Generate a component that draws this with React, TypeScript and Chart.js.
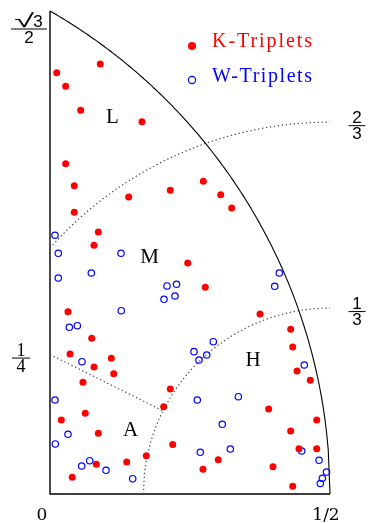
import { useEffect, useRef } from "react";
import { Chart, registerables } from "chart.js";

Chart.register(...registerables);

const X_MAX = 0.5;
const Y_MAX = Math.sqrt(3) / 2;

// K-Triplets (red filled dots)
const kTriplets: [number, number][] = [
  [0.012, 0.7554], [0.028, 0.731], [0.0898, 0.771], [0.0548, 0.688], [0.1643, 0.6676],
  [0.028, 0.5923], [0.0434, 0.5528], [0.1405, 0.5325], [0.2148, 0.5446], [0.0434, 0.5051],
  [0.0863, 0.4698], [0.0786, 0.4459], [0.2738, 0.5607], [0.3048, 0.5367], [0.3245, 0.5128],
  [0.2459, 0.4142], [0.0321, 0.3269], [0.0745, 0.2792], [0.0357, 0.251], [0.1095, 0.2433],
  [0.0786, 0.2277], [0.2773, 0.3706], [0.375, 0.3228], [0.4298, 0.2953], [0.4334, 0.2636],
  [0.4411, 0.2205], [0.4648, 0.2039], [0.1138, 0.2157], [0.0589, 0.2003], [0.2148, 0.1883],
  [0.203, 0.1565], [0.063, 0.1447], [0.0202, 0.1327], [0.0863, 0.1088], [0.2191, 0.0888],
  [0.172, 0.0687], [0.137, 0.0574], [0.0827, 0.0533], [0.0398, 0.0299], [0.3905, 0.1524],
  [0.4763, 0.1327], [0.4298, 0.113], [0.3005, 0.0615], [0.2732, 0.0443], [0.4446, 0.0812],
  [0.4763, 0.0812], [0.3982, 0.049], [0.4334, 0.014],
];

// W-Triplets (blue open circles)
const wTriplets: [number, number][] = [
  [0.0089, 0.4639], [0.0148, 0.4316], [0.1268, 0.4316], [0.0148, 0.3873], [0.0738, 0.3963],
  [0.2089, 0.373], [0.2259, 0.376], [0.2036, 0.3491], [0.2232, 0.355], [0.1273, 0.3287],
  [0.0345, 0.2989], [0.0488, 0.3018], [0.0571, 0.2372], [0.4095, 0.3963], [0.4013, 0.3724],
  [0.2916, 0.2731], [0.2571, 0.2552], [0.2798, 0.2492], [0.2661, 0.2403], [0.4541, 0.2313],
  [0.0089, 0.1685], [0.0321, 0.107], [0.0095, 0.0897], [0.0709, 0.0597], [0.0566, 0.0502],
  [0.1, 0.0425], [0.1477, 0.0274], [0.263, 0.1685], [0.3363, 0.1745], [0.3077, 0.125],
  [0.2684, 0.0748], [0.322, 0.0807], [0.4495, 0.0771], [0.4804, 0.0604], [0.4938, 0.0394],
  [0.4863, 0.0282], [0.4827, 0.0188],
];

const legendLabels = ["K-Triplets", "W-Triplets"];

const xTicks = [
  { value: 0, label: "0" },
  { value: 0.5, label: "1/2" },
];
const leftFractions = [
  { value: Y_MAX, num: "√3", den: "2" },
  { value: 0.25, num: "1", den: "4" },
];
const rightFractions = [
  { value: 2 / 3, num: "2", den: "3" },
  { value: 1 / 3, num: "1", den: "3" },
];
const regionLabels = [
  { text: "L", x: 0.1116, y: 0.665 },
  { text: "M", x: 0.1777, y: 0.414 },
  { text: "H", x: 0.3625, y: 0.2295 },
  { text: "A", x: 0.1438, y: 0.104 },
];

// geometry of the boundary curves
function circlePts(cx: number, cy: number, r: number, x0: number, x1: number, n = 160) {
  const pts: { x: number; y: number }[] = [];
  for (let i = 0; i <= n; i++) {
    const x = x0 + ((x1 - x0) * i) / n;
    const d = r * r - (x - cx) * (x - cx);
    pts.push({ x, y: cy + Math.sqrt(Math.max(0, d)) });
  }
  return pts;
}

function boundaryLine() {
  const p0 = { x: 0, y: 0.25 };
  const c = { x: 0.5, y: 0 };
  const dx = p0.x - c.x;
  const dy = p0.y - c.y;
  const len = Math.hypot(dx, dy);
  const r = 1 / 3;
  return [p0, { x: c.x + (dx / len) * r, y: c.y + (dy / len) * r }];
}

const overlayPlugin = {
  id: "overlay",
  beforeDatasetsDraw(chart: any) {
    const { ctx, chartArea } = chart;
    ctx.save();
    ctx.strokeStyle = "#000";
    ctx.lineWidth = 1.4;
    ctx.beginPath();
    ctx.moveTo(chartArea.left, chartArea.top);
    ctx.lineTo(chartArea.left, chartArea.bottom);
    ctx.lineTo(chartArea.right, chartArea.bottom);
    ctx.stroke();
    ctx.restore();
  },
  afterDatasetsDraw(chart: any) {
    const { ctx, scales } = chart;
    const xs = scales.x;
    const ys = scales.y;
    ctx.save();
    ctx.fillStyle = "#000";
    ctx.strokeStyle = "#000";

    // x tick labels
    ctx.font = "17px 'DejaVu Serif'";
    ctx.textAlign = "center";
    ctx.textBaseline = "alphabetic";
    xTicks.forEach((t, i) => {
      const px = xs.getPixelForValue(t.value) + (i === 0 ? -8 : -4);
      ctx.fillText(t.label, px, ys.getPixelForValue(0) + 26);
    });

    const drawBar = (cx: number, barY: number, w: number) => {
      ctx.lineWidth = 1;
      ctx.beginPath();
      ctx.moveTo(cx - w / 2, barY + 0.5);
      ctx.lineTo(cx + w / 2, barY + 0.5);
      ctx.stroke();
    };
    const drawFrac = (cx: number, barY: number, w: number, num: string, den: string, font: string) => {
      ctx.font = font;
      ctx.textAlign = "center";
      ctx.fillText(num, cx, barY - 2);
      ctx.fillText(den, cx, barY + 14);
      drawBar(cx, barY, w);
    };

    // left fractions
    const left = xs.getPixelForValue(0);
    {
      const f = leftFractions[0];
      const cx = left - 21;
      const barY = ys.getPixelForValue(f.value) + 17.5;
      // numerator: enlarged radical followed by the digit
      const rad = f.num.slice(0, 1);
      const digit = f.num.slice(1);
      ctx.textAlign = "left";
      ctx.font = "19px 'Liberation Sans'";
      const rw = ctx.measureText(rad).width * 1.9;
      ctx.font = "17px 'Liberation Sans'";
      const dw = ctx.measureText(digit).width;
      const x0 = cx - (rw + dw) / 2;
      ctx.save();
      ctx.translate(x0, barY - 2);
      ctx.scale(1.9, 1);
      ctx.font = "19px 'Liberation Sans'";
      ctx.fillText(rad, 0, 0);
      ctx.restore();
      ctx.font = "17px 'Liberation Sans'";
      ctx.fillText(digit, x0 + rw - 1, barY - 2);
      ctx.textAlign = "center";
      ctx.fillText(f.den, cx, barY + 14);
      drawBar(cx, barY, 36);
    }
    drawFrac(left - 29, ys.getPixelForValue(leftFractions[1].value) + 3, 18, leftFractions[1].num, leftFractions[1].den, "18px 'Liberation Serif'");

    // right fractions
    const right = xs.getPixelForValue(X_MAX);
    rightFractions.forEach((f) => {
      drawFrac(right + 27, ys.getPixelForValue(f.value) + 3, 17, f.num, f.den, "17px 'Liberation Sans'");
    });

    // region labels
    ctx.font = "21px 'Liberation Serif'";
    ctx.textAlign = "center";
    regionLabels.forEach((r) => {
      ctx.fillText(r.text, xs.getPixelForValue(r.x), ys.getPixelForValue(r.y));
    });

    // legend
    const drawLegendText = (text: string, x: number, y: number, color: string) => {
      ctx.font = "20px 'Liberation Serif'";
      ctx.textAlign = "left";
      (ctx as any).letterSpacing = "0px";
      const w = ctx.measureText(text).width;
      const sp = (100 - w) / (text.length - 1);
      (ctx as any).letterSpacing = `${sp}px`;
      ctx.fillStyle = color;
      ctx.fillText(text, x, y);
      (ctx as any).letterSpacing = "0px";
    };
    ctx.fillStyle = "#ff0000";
    ctx.beginPath();
    ctx.arc(192, 46, 4, 0, Math.PI * 2);
    ctx.fill();
    drawLegendText(legendLabels[0], 212, 47, "#ff0000");

    ctx.strokeStyle = "#0000ff";
    ctx.lineWidth = 1.2;
    ctx.beginPath();
    ctx.arc(192, 80, 3.6, 0, Math.PI * 2);
    ctx.stroke();
    drawLegendText(legendLabels[1], 212, 82, "#0000ff");

    ctx.restore();
  },
};

export default function App() {
  const ref = useRef<HTMLCanvasElement | null>(null);
  useEffect(() => {
    if (!ref.current) return;
    const dotted = {
      showLine: true,
      pointRadius: 0,
      borderColor: "#444",
      borderWidth: 1.2,
      borderDash: [1.3, 2.7],
      fill: false,
      clip: false,
      order: 2,
    };
    const chart = new Chart(ref.current, {
      type: "scatter",
      data: {
        datasets: [
          {
            label: legendLabels[0],
            data: kTriplets.map(([x, y]) => ({ x, y })),
            pointRadius: 3.5,
            pointBackgroundColor: "#ff0000",
            pointBorderColor: "#ff0000",
            pointBorderWidth: 0,
            clip: false,
            order: 0,
          } as any,
          {
            label: legendLabels[1],
            data: wTriplets.map(([x, y]) => ({ x, y })),
            pointRadius: 3.2,
            pointBackgroundColor: "rgba(0,0,0,0)",
            pointBorderColor: "#0000ff",
            pointBorderWidth: 1.2,
            clip: false,
            order: 0,
          } as any,
          {
            label: "outer",
            data: circlePts(-0.5, 0, 1, 0, 0.5),
            showLine: true,
            pointRadius: 0,
            borderColor: "#000",
            borderWidth: 1.1,
            fill: false,
            clip: false,
            order: 1,
          } as any,
          { label: "r23", data: circlePts(0.5, 0, 2 / 3, 0, 0.5), ...dotted } as any,
          { label: "r13", data: circlePts(0.5, 0, 1 / 3, 1 / 6, 0.5), ...dotted } as any,
          { label: "line", data: boundaryLine(), ...dotted } as any,
        ],
      },
      options: {
        responsive: false,
        animation: false,
        layout: { padding: { left: 50, right: 38, top: 11, bottom: 29 } },
        scales: {
          x: { type: "linear", min: 0, max: X_MAX, display: false },
          y: { type: "linear", min: 0, max: Y_MAX, display: false },
        },
        plugins: {
          legend: { display: false },
          tooltip: { enabled: false },
        },
      },
      plugins: [overlayPlugin],
    });
    return () => chart.destroy();
  }, []);
  return (
    <div style={{ position: "absolute", left: 0, top: 0, width: 368, height: 523, background: "#fff" }}>
      <canvas ref={ref} width={368} height={523} style={{ width: 368, height: 523, display: "block" }} />
    </div>
  );
}
